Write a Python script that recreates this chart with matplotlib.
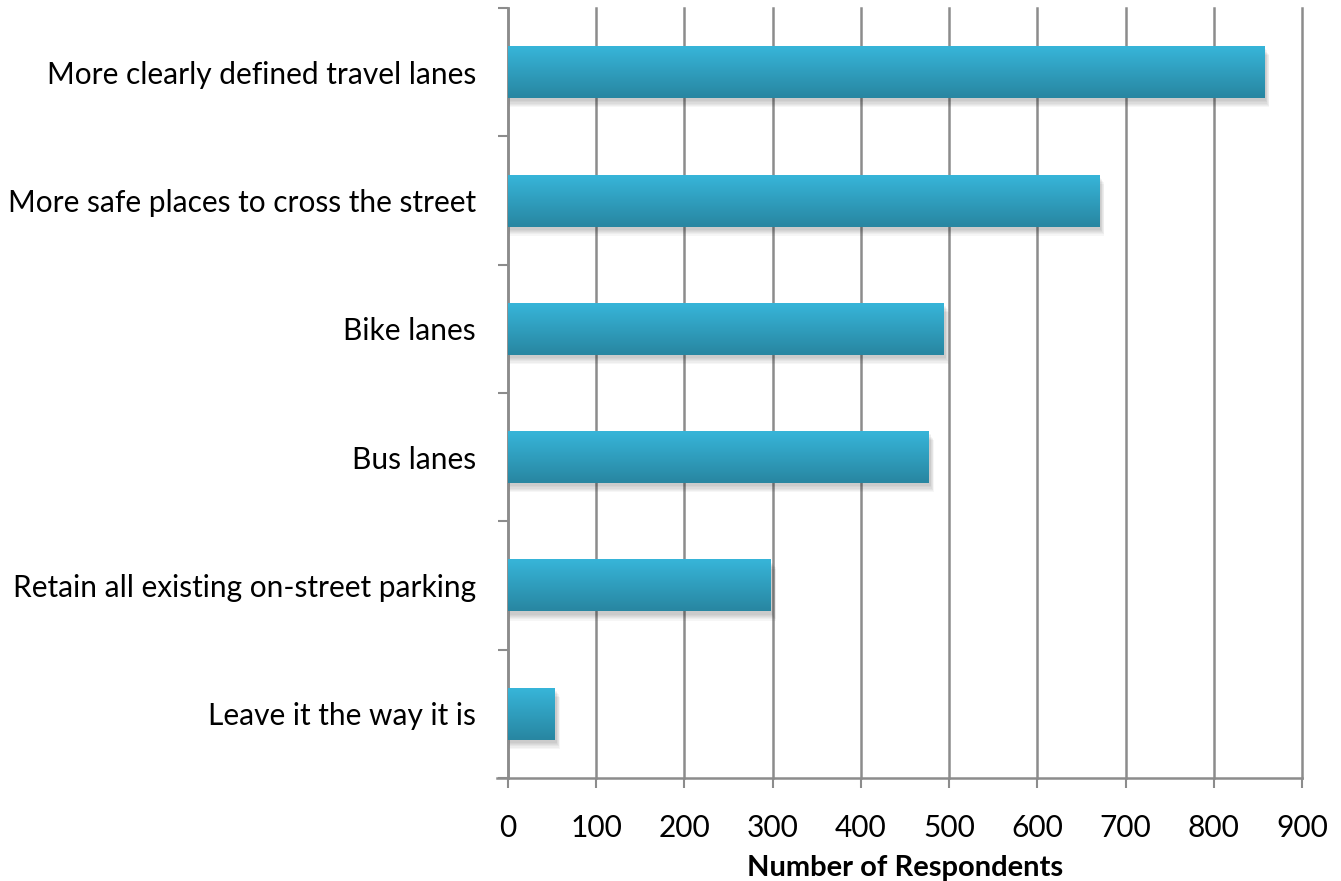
import numpy as np
import matplotlib.pyplot as plt
from matplotlib.colors import LinearSegmentedColormap

# survey answers, top to bottom
categories = ['More clearly defined travel lanes',
              'More safe places to cross the street',
              'Bike lanes',
              'Bus lanes',
              'Retain all existing on-street parking',
              'Leave it the way it is']
respondents = [857, 670, 494, 477, 298, 53]
xticks = [0, 100, 200, 300, 400, 500, 600, 700, 800, 900]

plt.rcParams['font.family'] = ['Lato', 'DejaVu Sans']

fig = plt.figure(figsize=(13.41, 8.81), dpi=100)
ax = fig.add_axes([0.3788, 0.1169, 0.5921, 0.874])

grid_color = '#8c8c8c'
bar_h = 0.405
ypos = np.arange(len(categories))

# vertical gradient for the bars
grad = LinearSegmentedColormap.from_list('bar', ['#37b5d9', '#2886a1'])
gimg = np.linspace(0, 1, 100).reshape(-1, 1)

for y, v in zip(ypos, respondents):
    # soft shadow
    for k in range(6):
        off = 3 + k * 1.2
        ax.barh(y + off / 128.3, v + off / 0.882 * 0.6, height=bar_h, left=0,
                color='black', alpha=0.035, zorder=2, linewidth=0)
    ax.imshow(gimg, cmap=grad, aspect='auto', zorder=3,
              extent=(0, v, y + bar_h / 2, y - bar_h / 2), interpolation='bilinear')

ax.set_xlim(0, 900)
ax.set_ylim(len(categories) - 0.5, -0.5)

ax.set_xticks(xticks)
ax.set_xticklabels([str(t) for t in xticks], fontsize=21.5)
ax.tick_params(axis='x', length=7, width=1.5, color=grid_color, pad=19)
ax.xaxis.grid(True, color=grid_color, linewidth=1.8, zorder=1)
for gl in ax.get_xgridlines():
    gl.set_clip_on(False)
ax.set_axisbelow(True)

ax.set_yticks(ypos)
ax.set_yticklabels(categories, fontsize=21.5)
ax.tick_params(axis='y', which='major', length=0, pad=23)
ax.set_yticks(np.arange(-0.5, len(categories)), minor=True)
ax.tick_params(axis='y', which='minor', length=7, width=1.5, color=grid_color)

for s in ['top', 'right']:
    ax.spines[s].set_visible(False)
for s in ['left', 'bottom']:
    ax.spines[s].set_color(grid_color)
    ax.spines[s].set_linewidth(1.8)
ax.spines['bottom'].set_bounds(-12, 900)
ax.spines['bottom'].set_clip_on(False)

ax.set_xlabel('Number of Respondents', fontsize=21, fontweight='bold', labelpad=9)

fig.savefig('out.png', dpi=100)
